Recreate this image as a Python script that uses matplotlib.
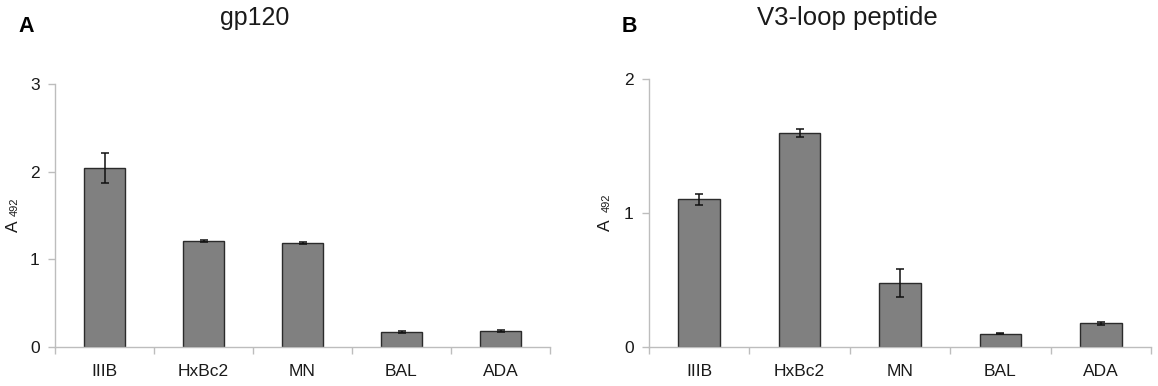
import matplotlib
matplotlib.use("Agg")
import matplotlib.pyplot as plt
import numpy as np

plt.rcParams['font.family'] = ['Liberation Sans', 'DejaVu Sans']

categories = ["IIIB", "HxBc2", "MN", "BAL", "ADA"]
gp120_vals = [2.04, 1.21, 1.19, 0.17, 0.18]
gp120_err = [0.17, 0.01, 0.01, 0.008, 0.01]
v3_vals = [1.105, 1.60, 0.48, 0.10, 0.178]
v3_err = [0.04, 0.027, 0.105, 0.004, 0.008]

W, H = 1158, 386
fig = plt.figure(figsize=(W / 100, H / 100), dpi=100)

spine_col = "#BDBDBD"
text_col = "#1a1a1a"


def make_panel(rect, vals, errs, ymax, yticks):
    ax = fig.add_axes(rect)
    x = np.arange(len(categories))
    ax.bar(x, vals, width=0.415, color="#808080", edgecolor="#2b2b2b",
           linewidth=1.0, zorder=2)
    ax.errorbar(x, vals, yerr=errs, fmt="none", ecolor="#111111",
                elinewidth=1.1, capsize=2.9, capthick=1.1, zorder=3)
    ax.set_xlim(-0.5, len(categories) - 0.5)
    ax.set_ylim(0, ymax)
    for s in ["top", "right"]:
        ax.spines[s].set_visible(False)
    for s in ["left", "bottom"]:
        ax.spines[s].set_color(spine_col)
        ax.spines[s].set_linewidth(1.0)
    ax.set_xticks(x)
    ax.set_xticklabels(categories)
    ax.set_xticks(np.arange(-0.5, len(categories)), minor=True)
    ax.tick_params(axis="x", which="major", length=0, pad=12,
                   labelsize=12.5, labelcolor=text_col)
    ax.tick_params(axis="x", which="minor", length=5, width=1.0,
                   color=spine_col, direction="out")
    ax.set_yticks(yticks)
    ax.set_yticklabels([str(t) for t in yticks])
    ax.tick_params(axis="y", length=5, width=1.0, color=spine_col,
                   direction="out", pad=6, labelsize=12.5, labelcolor=text_col)
    return ax


axA = make_panel([55 / W, (H - 347) / H, 495 / W, 263 / H],
                 gp120_vals, gp120_err, 3, [0, 1, 2, 3])
axB = make_panel([649 / W, (H - 347.3) / H, 502 / W, 268 / H],
                 v3_vals, v3_err, 2, [0, 1, 2])


def ftext(px, py, s, **kw):
    fig.text(px / W, 1 - py / H, s, **kw)


# Titles
ftext(255, 25, "gp120", ha="center", va="baseline", fontsize=18, color="#1a1a1a")
ftext(847, 25, "V3-loop peptide", ha="center", va="baseline", fontsize=18.5,
      color="#1a1a1a")
# Panel letters
ftext(18, 32, "A", ha="left", va="baseline", fontsize=15.5, fontweight="bold",
      color="black")
ftext(622, 32, "B", ha="left", va="baseline", fontsize=15.5, fontweight="bold",
      color="black")

# Y labels "A 492"
for bx, by_a, by_n in [(18, 232, 216), (610, 231, 212)]:
    ftext(bx, by_a, "A", rotation=90, rotation_mode="anchor", ha="left",
          va="baseline", fontsize=12.5, color=text_col)
    ftext(bx, by_n, "492", rotation=90, rotation_mode="anchor", ha="left",
          va="baseline", fontsize=8, color=text_col)

fig.savefig("out.png", dpi=100, facecolor="white")
